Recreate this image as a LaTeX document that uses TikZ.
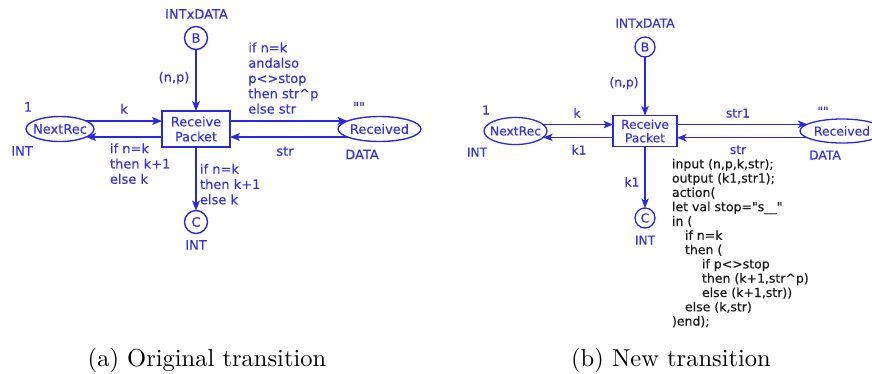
\documentclass[tikz,border=0pt]{standalone}
\usepackage{fontspec}
\setsansfont{DejaVu Sans}[Ligatures=TeXOff,FakeBold=0.35]
\newfontfamily\capfont{lmroman10-regular.otf}
\usetikzlibrary{arrows.meta,shapes.geometric}
\definecolor{lb}{RGB}{40,40,228}
\definecolor{tb}{RGB}{52,52,218}
\definecolor{codec}{RGB}{25,25,25}
\newcommand{\dq}{\char"22\relax}
\begin{document}
\begin{tikzpicture}[x=1pt,y=-1pt,
  every node/.style={inner sep=0pt,outer sep=0pt},
  fA/.style={font=\fontsize{13}{15.3}\selectfont\sffamily},
  fB/.style={font=\fontsize{12.3}{13.6}\selectfont\sffamily},
  lblA/.style={fA,text=tb,text height=9.4pt,text depth=0pt},
  lblB/.style={fB,text=tb,text height=9pt,text depth=0pt},
  mlA/.style={fA,text=tb,align=left,anchor=north west},
  placeA/.style={ellipse,draw=lb,line width=1.4pt,fA,text=tb},
  placeB/.style={ellipse,draw=lb,line width=1.3pt,fB,text=tb},
  transA/.style={rectangle,draw=lb,line width=1.4pt,font=\fontsize{12.8}{15}\selectfont\sffamily,text=tb,align=center,minimum width=68pt,minimum height=36pt},
  transB/.style={rectangle,draw=lb,line width=1.3pt,font=\fontsize{12.2}{13.5}\selectfont\sffamily,text=tb,align=center,minimum width=64pt,minimum height=31pt},
  portA/.style={circle,draw=lb,line width=1.4pt,fA,text=tb,minimum size=23pt},
  portB/.style={circle,draw=lb,line width=1.3pt,fB,text=tb,minimum size=20pt},
  arr/.style={draw=lb,line width=1.4pt,-{Stealth[length=10pt,width=8pt,inset=2.5pt]}},
  arrB/.style={draw=lb,line width=1.3pt,-{Stealth[length=9.5pt,width=7.5pt,inset=2.5pt]}},
  codetxt/.style={font=\fontsize{12.5}{14.3}\selectfont\sffamily,text=codec,align=left,anchor=north west},
  captxt/.style={font=\fontsize{24.5}{29}\selectfont\capfont,text=black,anchor=base}]
\useasboundingbox (0,0) rectangle (872,373);

% ---------------- (a) original transition ----------------
\node[transA] (trA) at (196,129) {Receive\\Packet};
\node[placeA,minimum width=68pt,minimum height=25pt] (nrA) at (60,129) {\makebox[20pt]{NextRec}};
\node[placeA,minimum width=83pt,minimum height=25pt] (rcA) at (379.5,129) {\makebox[20pt]{Received}};
\node[portA] (bA) at (196,38) {B};
\node[portA] (cA) at (196,222) {C};

\draw[arr] (nrA.17) -- (nrA.17 -| trA.west);
\draw[arr] (trA.west |- nrA.-17) -- (nrA.-17);
\draw[arr] (trA.east |- rcA.166) -- (rcA.166);
\draw[arr] (rcA.-166) -- (trA.east |- rcA.-166);
\draw[arr] (bA) -- (trA);
\draw[arr] (trA) -- (cA);

\node[lblA] (tA1) at (196.5,14) {INTxDATA};
\node[lblA] (tA2) at (174,77) {(n,p)};
\node[lblA] (tA3) at (28,107) {1};
\node[lblA] (tA4) at (22,151) {INT};
\node[lblA] (tA5) at (124,109) {k};
\node[lblA] (tA6) at (285,151) {str};
\node[lblA] (tA7) at (362,154.5) {DATA};
\node[lblA] (tA8) at (359,107) {\dq\dq};
\node[lblA] (tA9) at (196,245) {INT};
\node[mlA] (mA1) at (248.3,42.5) {if n=k\\andalso\\p<>stop\\then str\textasciicircum p\\else str};
\node[mlA] (mA2) at (110,143.3) {if n=k\\then k+1\\else k};
\node[mlA] (mA3) at (200,163.8) {if n=k\\then k+1\\else k};

% ---------------- (b) new transition ----------------
\node[transB] (trB) at (645,131) {Receive\\Packet};
\node[placeB,minimum width=63pt,minimum height=27pt] (nrB) at (515.5,131) {\makebox[20pt]{NextRec}};
\node[placeB,minimum width=84pt,minimum height=24pt] (rcB) at (842,131) {\makebox[20pt]{Received}};
\node[portB] (bB) at (645,47) {B};
\node[portB] (cB) at (645,218) {C};

\draw[arrB] (nrB.13.3) -- (nrB.13.3 -| trB.west);
\draw[arrB] (trB.west |- nrB.-13.3) -- (nrB.-13.3);
\draw[arrB] (trB.east |- rcB.169.6) -- (rcB.169.6);
\draw[arrB] (rcB.-169.6) -- (trB.east |- rcB.-169.6);
\draw[arrB] (bB) -- (trB);
\draw[arrB] (trB) -- (cB);

\node[lblB] (tB1) at (645,23) {INTxDATA};
\node[lblB] (tB2) at (624,82) {(n,p)};
\node[lblB] (tB3) at (486,110) {1};
\node[lblB] (tB4) at (477,152) {INT};
\node[lblB] (tB5) at (577,113) {k};
\node[lblB] (tB6) at (579,150) {k1};
\node[lblB] (tB7) at (738,113) {str1};
\node[lblB] (tB8) at (738,149.5) {str};
\node[lblB] (tB9) at (823,111) {\dq\dq};
\node[lblB] (tB10) at (825,155) {DATA};
\node[lblB] (tB11) at (632,182) {k1};
\node[lblB] (tB12) at (645,240) {INT};
\node[codetxt] (cd) at (672,158.8) {input (n,p,k,str);\\
output (k1,str1);\\
action(\\
let val stop=\dq s\_\_\dq\\
in (\\
\hspace*{13pt}if n=k\\
\hspace*{13pt}then (\\
\hspace*{30pt}if p<>stop\\
\hspace*{30pt}then (k+1,str\textasciicircum p)\\
\hspace*{30pt}else (k+1,str))\\
\hspace*{13pt}else (k,str)\\
)end);};

% ---------------- captions ----------------
\node[captxt] (capA) at (207,366.5) {(a) Original transition};
\node[captxt] (capB) at (671,366) {(b) New transition};
\end{tikzpicture}
\end{document}
